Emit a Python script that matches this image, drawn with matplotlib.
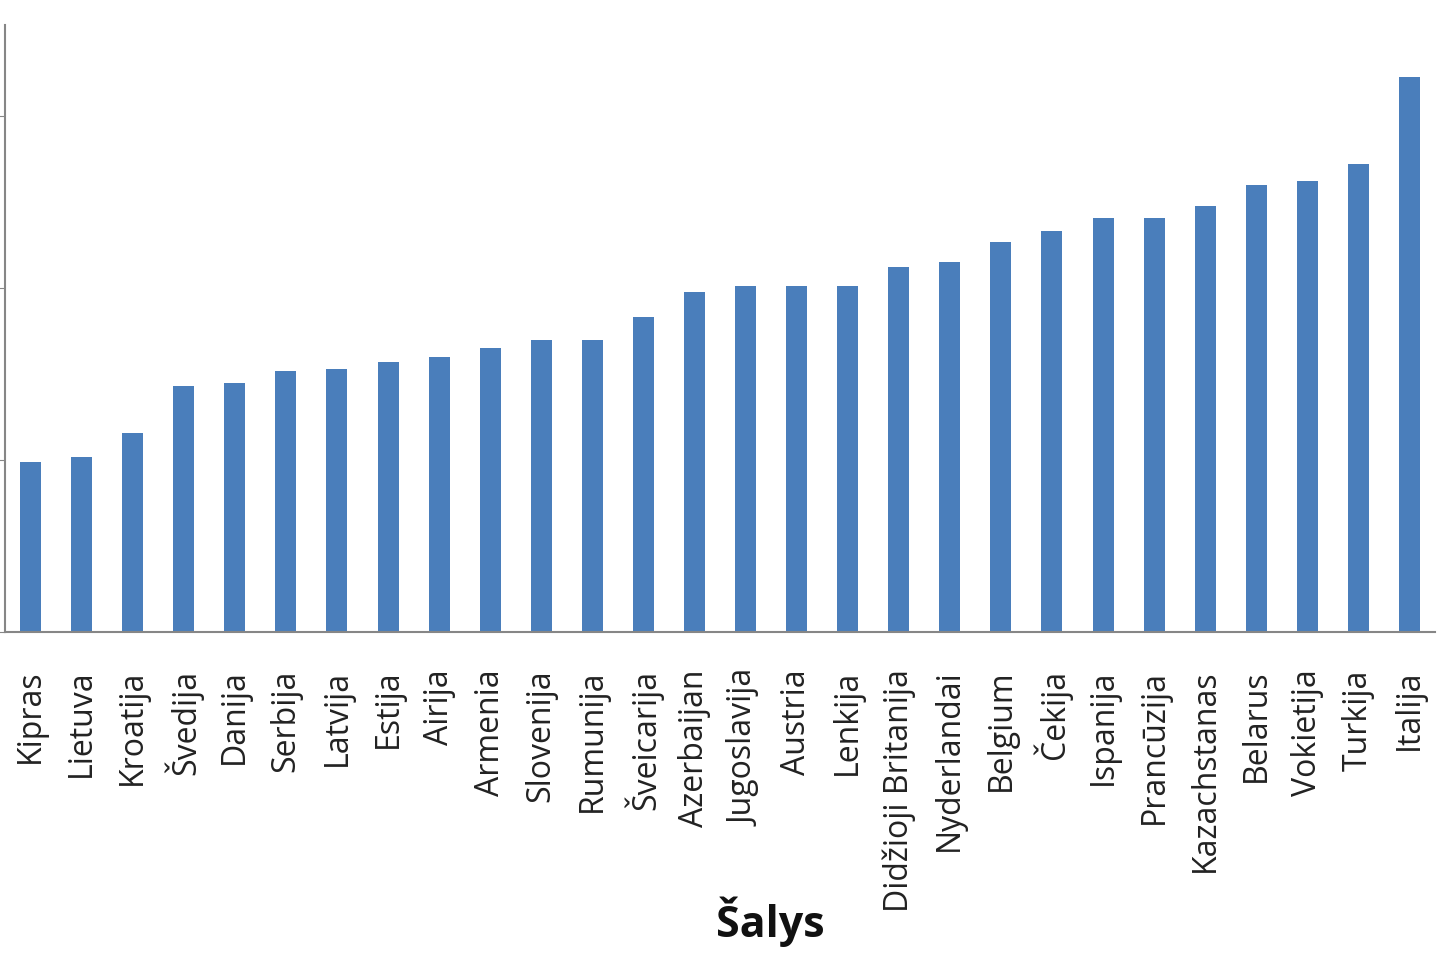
import matplotlib
matplotlib.use("Agg")
import matplotlib.pyplot as plt

countries = ["Kipras", "Lietuva", "Kroatija", "Švedija", "Danija", "Serbija", "Latvija",
             "Estija", "Airija", "Armenia", "Slovenija", "Rumunija", "Šveicarija",
             "Azerbaijan", "Jugoslavija", "Austria", "Lenkija", "Didžioji Britanija",
             "Nyderlandai", "Belgium", "Čekija", "Ispanija", "Prancūzija", "Kazachstanas",
             "Belarus", "Vokietija", "Turkija", "Italija"]
values = [9.9, 10.2, 11.6, 14.3, 14.5, 15.2, 15.3, 15.7, 16.0, 16.5, 17.0, 17.0, 18.3,
          19.8, 20.1, 20.1, 20.1, 21.2, 21.5, 22.7, 23.3, 24.1, 24.1, 24.8, 26.0, 26.2,
          27.2, 32.3]
yticks = [0, 10, 20, 30]

fig = plt.figure(figsize=(14.4, 9.6), dpi=100)
ax = fig.add_axes([5/1440, 1 - 632/960, 1430/1440, 607/960])
x = range(len(countries))
ax.bar(x, values, width=0.41, color="#4a7ebb", zorder=2)
ax.set_xlim(-0.5, len(countries) - 0.5)
ax.set_ylim(0, 35.3)
ax.set_yticks(yticks)
ax.set_yticklabels([])
ax.tick_params(axis="y", length=6, color="#868686", direction="out")
ax.set_xticks(list(x))
ax.set_xticklabels(countries, rotation=90, ha="center", va="top",
                   fontsize=23, family=["Open Sans", "DejaVu Sans"], color="#222222")
ax.tick_params(axis="x", length=0, pad=27)
for s in ["top", "right"]:
    ax.spines[s].set_visible(False)
for s in ["left", "bottom"]:
    ax.spines[s].set_color("#868686")
    ax.spines[s].set_linewidth(1.5)

fig.text(770/1440, 1 - 922/960, "Šalys", ha="center", va="center", fontsize=31,
         fontweight="bold", family=["Open Sans", "DejaVu Sans"], color="#111111")

fig.savefig("out.png", dpi=100)
